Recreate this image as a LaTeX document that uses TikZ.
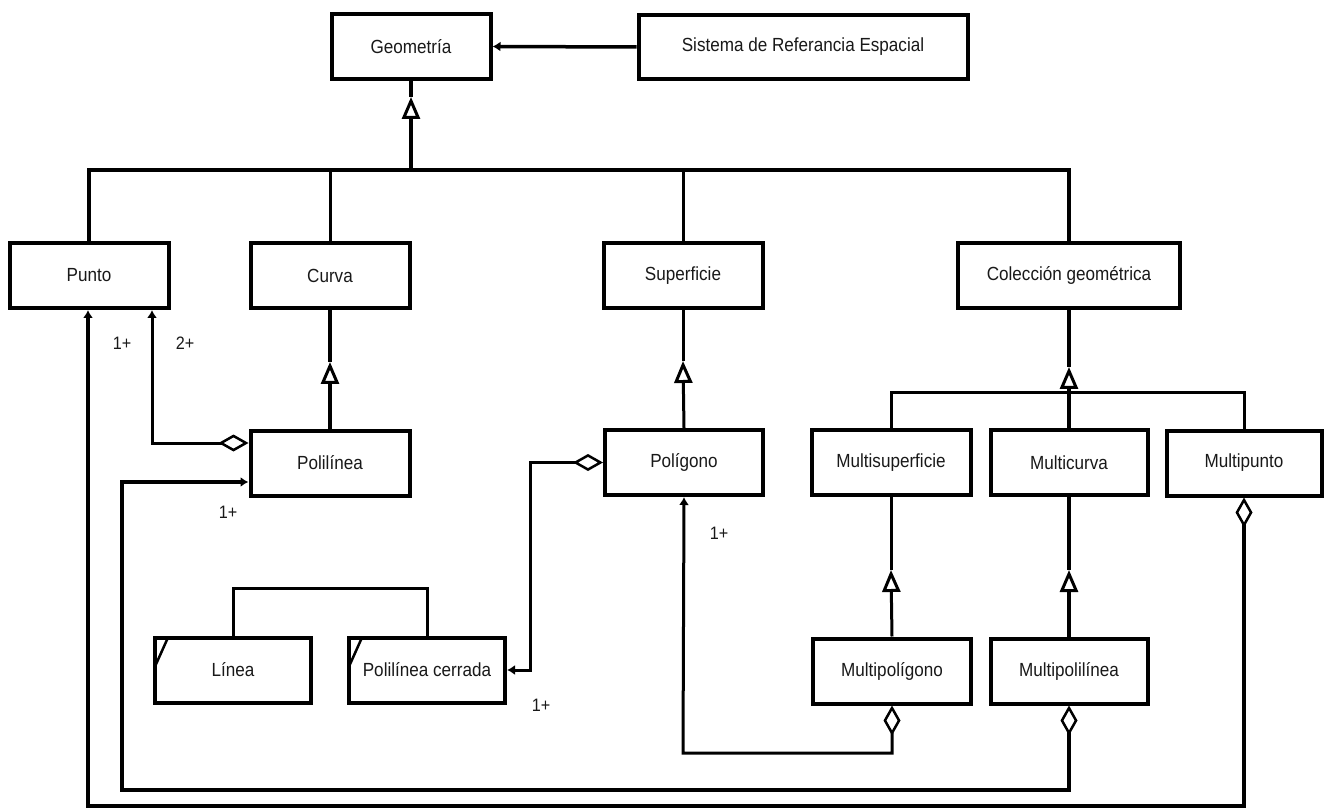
\documentclass[tikz,border=0pt]{standalone}
\usepackage{fontspec}
\setmainfont{Liberation Sans}[FakeStretch=0.9]
\usetikzlibrary{arrows.meta,calc}

\tikzset{
  gentip/.tip={Triangle[open,length=22pt,width=18pt,line width=3pt]},
  navtip/.tip={Latex[length=8pt,width=10pt]},
  diam/.tip={Diamond[open,length=30pt,width=17pt,line width=2.5pt]},
}

\begin{document}
\begin{tikzpicture}[x=1pt,y=-1pt,
  cls/.style={draw=black, line width=4pt, fill=white, minimum width=159pt,
    minimum height=65pt, inner sep=0pt, text=black!90,
    font=\fontsize{19}{22}\selectfont},
  conn/.style={line width=3.5pt},
  thinconn/.style={line width=3pt},
  lbl/.style={text=black!90, font=\fontsize{18}{20}\selectfont},
]
\useasboundingbox (0,0) rectangle (1326,810);

% classes
\node[cls] (geo)   at (411,46.5)  {Geometría};
\node[cls, minimum width=329pt, minimum height=64pt] (srs) at (803,47) {Sistema de Referancia Espacial};
\node[cls] (punto) at (89,275.5)  {Punto};
\node[cls] (curva) at (330,275.5) {Curva};
\node[cls] (sup)   at (683,275.5) {Superficie};
\node[cls, minimum width=222pt] (col) at (1069,275.5) {Colección geométrica};
\node[cls] (poli)  at (330,463)   {Polilínea};
\node[cls, minimum width=158pt] (polig) at (684,462.5) {Polígono};
\node[cls] (msup)  at (891,462.5) {Multisuperficie};
\node[cls, minimum width=157pt] (mcur) at (1069,462.5) {Multicurva};
\node[cls, minimum width=155pt] (mpun) at (1244,463) {Multipunto};
\node[cls, minimum width=156pt] (linea) at (233,670) {Línea};
\node[cls, minimum width=156pt] (pcer)  at (427,670) {Polilínea cerrada};
\node[cls, minimum width=158pt] (mpol)  at (892,671) {Multipolígono};
\node[cls, minimum width=157pt] (mpli)  at (1069,671) {Multipolilínea};

% corner marks of the two boxes without a connector on top
\draw[line width=2.5pt] ($(linea.north west)+(15,2)$) -- ($(linea.north west)+(2,31)$);
\draw[line width=2.5pt] ($(pcer.north west)+(15,2)$) -- ($(pcer.north west)+(2,31)$);

% spatial reference system
\draw[conn, -navtip] (srs.west) -- (geo.east);

% generalization of Geometría
\coordinate (bar) at (411,170);
\path (geo.south) ++(0,16) coordinate (gtip);
\draw[conn, -gentip] (bar) -- (gtip);
\draw[conn] (gtip) -- (geo.south);
\draw[conn] (punto.north) |- (bar) -| (col.north);
\draw[thinconn] (curva.north) -- (curva.north |- bar);
\draw[thinconn] (sup.north) -- (sup.north |- bar);

% Curva <- Polilínea
\path (curva.south) ++(0,52) coordinate (ctip);
\draw[conn, -gentip] (poli.north) -- (ctip);
\draw[conn] (ctip) -- (curva.south);

% Superficie <- Polígono
\path (sup.south) ++(0,51) coordinate (stip);
\draw[thinconn, -gentip] (polig.north) -- (stip);
\draw[thinconn] (stip) -- (sup.south);

% Colección geométrica <- Multi*
\coordinate (colbar) at (1069,393);
\path (col.south) ++(0,57) coordinate (ktip);
\draw[conn, -gentip] (colbar) -- (ktip);
\draw[conn] (ktip) -- (col.south);
\draw[conn] (mcur.north) -- (colbar);
\draw[thinconn] (msup.north) |- (colbar) -| (mpun.north);

% Multisuperficie <- Multipolígono
\path (msup.south) ++(0,73) coordinate (mtip1);
\draw[thinconn, -gentip] (mpol.north) -- (mtip1);
\draw[thinconn] (mtip1) -- (msup.south);

% Multicurva <- Multipolilínea
\path (mcur.south) ++(0,73) coordinate (mtip2);
\draw[conn, -gentip] (mpli.north) -- (mtip2);
\draw[conn] (mtip2) -- (mcur.south);

% Línea / Polilínea cerrada bracket
\coordinate (lb) at (233,588);
\draw[thinconn] (linea.north) -- (lb) -| (pcer.north);

% aggregations
\draw[thinconn, {diam}-{navtip}] ($(poli.west)+(0,-20)$) -| ($(punto.south)+(63,0)$);

\draw[thinconn, {diam}-{navtip}] (polig.west) -| ($(pcer.east)+(23,0)$) -- (pcer.east);

\coordinate (c1) at (683,753);
\draw[thinconn, {diam}-{navtip}] (mpol.south) |- (c1) -- (polig.south);

\coordinate (c2) at (122,790);
\draw[conn, {diam}-{navtip}] (mpli.south) |- (c2) |- ($(poli.west)+(0,19)$);

\coordinate (c3) at (88,806);
\draw[conn, {diam}-{navtip}] (mpun.south) |- (c3) -- (punto.south -| c3);

% multiplicities
\node[lbl] (m1) at (122,343) {1+};
\node[lbl] (m2) at (185,343) {2+};
\node[lbl] (m3) at (228,512) {1+};
\node[lbl] (m4) at (719,533) {1+};
\node[lbl] (m5) at (541,705) {1+};
\end{tikzpicture}
\end{document}
